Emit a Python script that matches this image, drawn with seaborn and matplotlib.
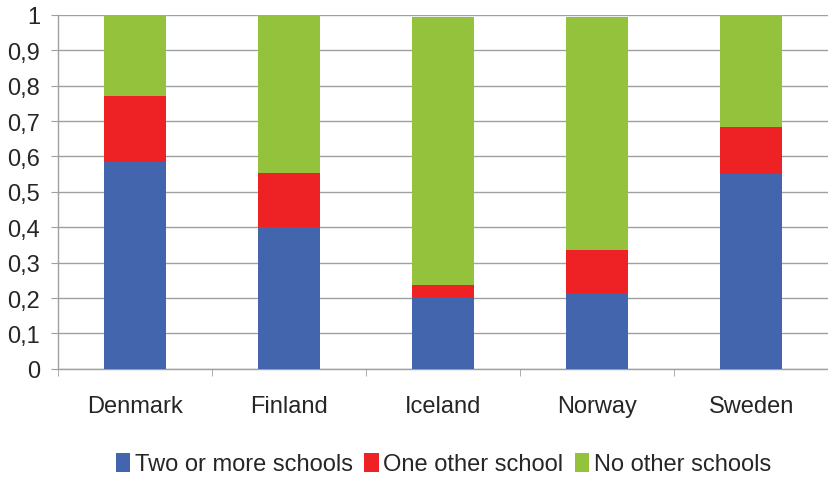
import matplotlib
matplotlib.use("Agg")
import matplotlib.pyplot as plt
from matplotlib.patches import Patch
from matplotlib.ticker import FuncFormatter
import numpy as np
import pandas as pd
import seaborn as sns

countries = ["Denmark", "Finland", "Iceland", "Norway", "Sweden"]
two_or_more = [0.584, 0.401, 0.203, 0.215, 0.551]
one_other = [0.187, 0.153, 0.034, 0.121, 0.133]
no_other = [0.229, 0.446, 0.758, 0.659, 0.316]

series_names = ["Two or more schools", "One other school", "No other schools"]
colors = ["#4265AE", "#EE2224", "#95C23C"]

df = pd.DataFrame({"Country": countries,
                   "two": two_or_more, "one": one_other, "none": no_other})
df["c1"] = df["two"]
df["c2"] = df["two"] + df["one"]
df["c3"] = df["c2"] + df["none"]

sns.set_style("white")
plt.rcParams["font.family"] = ["Liberation Sans", "DejaVu Sans"]

fig = plt.figure(figsize=(8.29, 4.81), dpi=100)
ax = fig.add_axes([0.070, 0.231, 0.929, 0.736])

# draw cumulative layers, tallest first
for col, c in zip(["c3", "c2", "c1"], colors[::-1]):
    sns.barplot(data=df, x="Country", y=col, color=c, width=0.4,
                saturation=1, ax=ax, zorder=3, linewidth=0)

ax.set_ylim(0, 1)
ax.set_xlim(-0.5, len(countries) - 0.5)
ax.set_yticks(np.arange(0, 1.01, 0.1))
ax.yaxis.set_major_formatter(FuncFormatter(
    lambda v, p: "0" if abs(v) < 1e-9 else ("1" if abs(v - 1) < 1e-9 else f"{v:.1f}".replace(".", ","))))
ax.grid(axis="y", color="#a0a0a0", linewidth=1, zorder=0)
ax.set_axisbelow(True)
ax.set_xlabel("")
ax.set_ylabel("")

for s in ["top", "right"]:
    ax.spines[s].set_visible(False)
for s in ["left", "bottom"]:
    ax.spines[s].set_color("#a0a0a0")
    ax.spines[s].set_linewidth(1)

ax.tick_params(axis="y", which="both", left=True, length=5, color="#a0a0a0",
               labelsize=17, pad=8)
ax.tick_params(axis="x", bottom=False, labelsize=17, pad=15)
# x ticks at category boundaries
ax.set_xticks(np.arange(-0.5, len(countries) - 0.4, 1), minor=True)
ax.tick_params(axis="x", which="minor", bottom=True, length=5, color="#a0a0a0")

handles = [Patch(facecolor=c, edgecolor="none") for c in colors]
fig.legend(handles, series_names, loc="center", bbox_to_anchor=(0.535, 0.033),
           ncol=3, frameon=False, fontsize=17, handlelength=0.6, handleheight=0.85,
           handletextpad=0.2, columnspacing=0.5)

fig.savefig("out.png", dpi=100)
